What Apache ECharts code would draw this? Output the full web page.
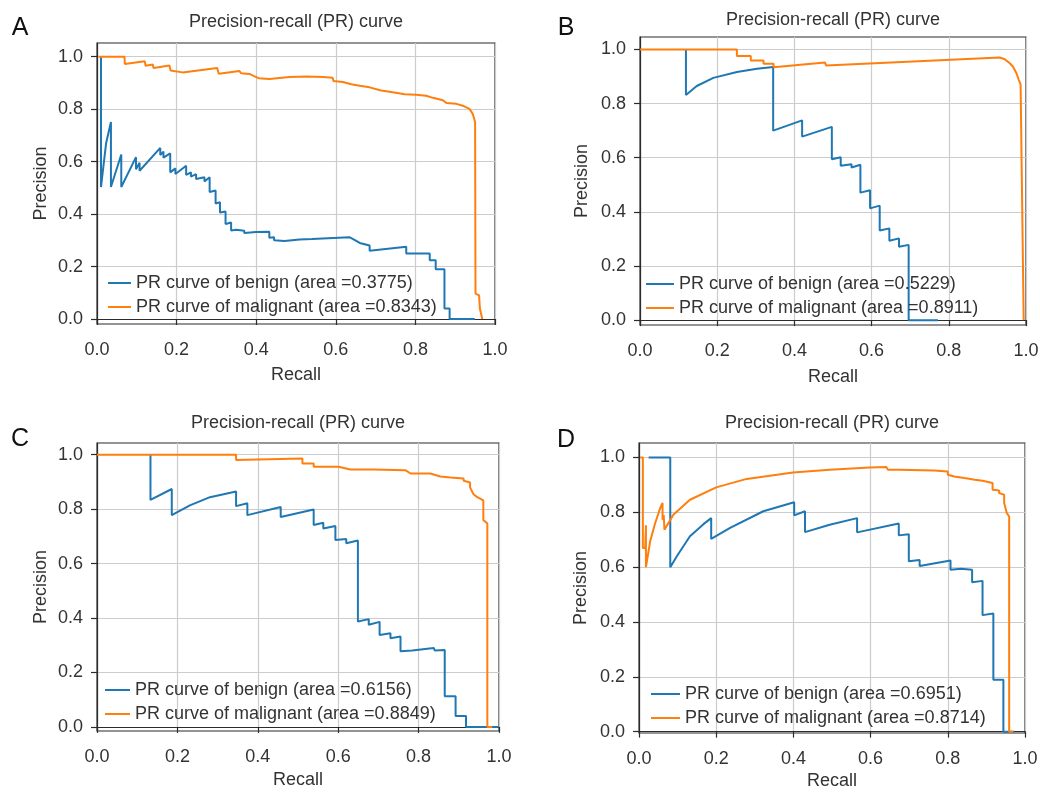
<!DOCTYPE html>
<html>
<head>
<meta charset="utf-8">
<script src="https://cdn.jsdelivr.net/npm/echarts@6/dist/echarts.min.js"></script>
<style>
html,body{margin:0;padding:0;background:#fff;}
#chart{width:1040px;height:792px;}
</style>
</head>
<body>
<div id="chart"></div>
<script>
// ---------- data (recall, precision) ----------
const xTicks = [0, 0.2, 0.4, 0.6, 0.8, 1.0];
const yTicks = [0, 0.2, 0.4, 0.6, 0.8, 1.0];
const panelLetters = ['A', 'B', 'C', 'D'];
const chartTitle = 'Precision-recall (PR) curve';
const benignNames = ['PR curve of benign (area =0.3775)', 'PR curve of benign (area =0.5229)', 'PR curve of benign (area =0.6156)', 'PR curve of benign (area =0.6951)'];
const malignantNames = ['PR curve of malignant (area =0.8343)', 'PR curve of malignant (area =0.8911)', 'PR curve of malignant (area =0.8849)', 'PR curve of malignant (area =0.8714)'];

const benignA = [[0.010,1.0],[0.010,0.503],[0.023,0.671],[0.035,0.751],[0.035,0.503],[0.061,0.627],[0.061,0.503],[0.098,0.617],[0.098,0.571],[0.107,0.596],[0.107,0.565],[0.159,0.652],[0.159,0.625],[0.167,0.638],[0.167,0.615],[0.184,0.631],[0.184,0.559],[0.197,0.574],[0.197,0.553],[0.224,0.584],[0.224,0.549],[0.236,0.559],[0.236,0.543],[0.249,0.552],[0.249,0.534],[0.270,0.540],[0.270,0.524],[0.283,0.540],[0.283,0.484],[0.298,0.490],[0.298,0.440],[0.309,0.445],[0.309,0.406],[0.323,0.410],[0.323,0.362],[0.337,0.368],[0.337,0.337],[0.350,0.340],[0.350,0.333],[0.370,0.336],[0.370,0.328],[0.400,0.332],[0.400,0.326],[0.433,0.333],[0.433,0.310],[0.445,0.312],[0.445,0.300],[0.471,0.297],[0.509,0.303],[0.540,0.305],[0.540,0.300],[0.634,0.312],[0.647,0.302],[0.660,0.290],[0.685,0.280],[0.685,0.260],[0.777,0.275],[0.777,0.250],[0.836,0.250],[0.836,0.224],[0.851,0.224],[0.851,0.190],[0.873,0.190],[0.873,0.040],[0.886,0.040],[0.886,0.0],[0.949,0.0]];
const malignantA = [[0.004,1.0],[0.069,1.0],[0.070,0.972],[0.120,0.982],[0.122,0.965],[0.140,0.970],[0.142,0.957],[0.182,0.966],[0.185,0.947],[0.215,0.940],[0.216,0.935],[0.302,0.957],[0.306,0.935],[0.358,0.945],[0.362,0.937],[0.383,0.934],[0.386,0.927],[0.396,0.925],[0.406,0.918],[0.433,0.915],[0.484,0.922],[0.526,0.924],[0.567,0.922],[0.592,0.920],[0.594,0.907],[0.618,0.903],[0.639,0.895],[0.660,0.889],[0.685,0.883],[0.714,0.871],[0.743,0.864],[0.773,0.857],[0.802,0.855],[0.827,0.851],[0.844,0.843],[0.869,0.834],[0.878,0.823],[0.903,0.820],[0.919,0.813],[0.936,0.801],[0.944,0.782],[0.950,0.751],[0.951,0.097],[0.960,0.090],[0.962,0.040],[0.968,0.0]];

const benignB = [[0.119,1.0],[0.119,0.832],[0.147,0.865],[0.190,0.895],[0.251,0.917],[0.303,0.929],[0.345,0.935],[0.345,0.700],[0.420,0.738],[0.420,0.678],[0.497,0.714],[0.497,0.594],[0.520,0.602],[0.520,0.570],[0.548,0.576],[0.548,0.564],[0.571,0.574],[0.571,0.471],[0.596,0.480],[0.596,0.413],[0.621,0.423],[0.621,0.331],[0.646,0.339],[0.646,0.293],[0.671,0.302],[0.671,0.271],[0.696,0.278],[0.696,0.0],[0.772,0.0]];
const malignantB = [[0.0,1.0],[0.251,1.0],[0.251,0.976],[0.287,0.976],[0.287,0.959],[0.320,0.959],[0.320,0.947],[0.346,0.947],[0.346,0.934],[0.479,0.952],[0.482,0.941],[0.932,0.970],[0.945,0.964],[0.958,0.949],[0.966,0.937],[0.975,0.913],[0.981,0.889],[0.986,0.871],[0.991,0.865],[0.994,0.0]];

const benignC = [[0.133,1.0],[0.133,0.834],[0.186,0.874],[0.186,0.778],[0.231,0.814],[0.281,0.844],[0.346,0.865],[0.346,0.811],[0.374,0.822],[0.374,0.778],[0.457,0.808],[0.457,0.771],[0.539,0.799],[0.539,0.742],[0.563,0.750],[0.563,0.729],[0.593,0.738],[0.593,0.687],[0.620,0.690],[0.620,0.675],[0.649,0.685],[0.649,0.387],[0.676,0.396],[0.676,0.375],[0.703,0.386],[0.703,0.338],[0.730,0.344],[0.730,0.326],[0.755,0.332],[0.755,0.278],[0.784,0.281],[0.838,0.290],[0.840,0.281],[0.865,0.283],[0.865,0.113],[0.892,0.113],[0.892,0.040],[0.918,0.040],[0.918,0.0],[0.999,0.0]];
const malignantC = [[0.0,1.0],[0.346,1.0],[0.346,0.981],[0.511,0.986],[0.511,0.968],[0.539,0.968],[0.539,0.956],[0.601,0.956],[0.601,0.949],[0.630,0.946],[0.688,0.946],[0.688,0.940],[0.767,0.943],[0.767,0.937],[0.780,0.931],[0.829,0.931],[0.829,0.926],[0.854,0.920],[0.879,0.916],[0.912,0.913],[0.912,0.904],[0.928,0.898],[0.928,0.880],[0.936,0.856],[0.946,0.844],[0.946,0.838],[0.961,0.832],[0.961,0.760],[0.971,0.747],[0.971,0.0],[0.983,0.0]];

const benignD = [[0.025,1.0],[0.081,1.0],[0.081,0.600],[0.098,0.640],[0.132,0.713],[0.167,0.757],[0.187,0.779],[0.187,0.703],[0.236,0.743],[0.322,0.804],[0.402,0.837],[0.402,0.789],[0.430,0.804],[0.430,0.728],[0.494,0.755],[0.565,0.779],[0.565,0.727],[0.673,0.759],[0.673,0.716],[0.699,0.720],[0.699,0.622],[0.727,0.626],[0.727,0.604],[0.807,0.624],[0.807,0.591],[0.834,0.594],[0.834,0.588],[0.863,0.591],[0.863,0.545],[0.890,0.550],[0.890,0.425],[0.918,0.431],[0.918,0.189],[0.944,0.189],[0.944,0.0],[0.972,0.0]];
const malignantD = [[0.003,1.0],[0.010,1.0],[0.010,0.670],[0.016,0.670],[0.018,0.753],[0.018,0.600],[0.029,0.695],[0.042,0.761],[0.055,0.816],[0.061,0.834],[0.061,0.773],[0.064,0.790],[0.066,0.737],[0.089,0.791],[0.132,0.846],[0.200,0.891],[0.279,0.922],[0.399,0.945],[0.494,0.955],[0.597,0.964],[0.641,0.965],[0.645,0.955],[0.675,0.955],[0.675,0.949],[0.765,0.953],[0.765,0.947],[0.800,0.949],[0.800,0.937],[0.817,0.931],[0.843,0.925],[0.870,0.919],[0.890,0.915],[0.916,0.907],[0.916,0.882],[0.933,0.880],[0.933,0.870],[0.946,0.864],[0.946,0.834],[0.953,0.797],[0.959,0.785],[0.959,0.0],[0.970,0.0]];

const benignData = [benignA, benignB, benignC, benignD];
const malignantData = [malignantA, malignantB, malignantC, malignantD];

// ---------- layout ----------
const FONT = "'Liberation Sans', Arial, Helvetica, sans-serif";
const TXT = '#333';
const BLUE = '#1f77b4', ORANGE = '#ff7f0e';
const layout = [
  {grid:{left:97, top:43, width:398, height:281}, ymin:-0.019, ymax:1.052, leg:{left:108, top:274, w:23}, title:[296,22], letter:[20,28], xGap:42, yGap:47},
  {grid:{left:640, top:37, width:386, height:288}, ymin:-0.018, ymax:1.046, leg:{left:646, top:275, w:28}, title:[833,20], letter:[566,28], xGap:43, yGap:49},
  {grid:{left:97, top:443, width:402, height:288}, ymin:-0.015, ymax:1.043, leg:{left:105, top:681, w:25}, title:[298,423], letter:[20,439], xGap:40, yGap:47},
  {grid:{left:639, top:443, width:386, height:290}, ymin:-0.005, ymax:1.053, leg:{left:651, top:685, w:29}, title:[832,423], letter:[566,440], xGap:39, yGap:49}
];

const grids = [], xAxes = [], yAxes = [], series = [], legends = [], titles = [];
layout.forEach((L, i) => {
  grids.push(Object.assign({show:true, borderColor:'#2b2b2b', borderWidth:1.2, backgroundColor:'transparent', outerBoundsMode:'none', containLabel:false}, L.grid));
  xAxes.push({
    type:'value', gridIndex:i, min:xTicks[0], max:xTicks[xTicks.length-1], interval:0.2,
    name:'Recall', nameLocation:'middle', nameGap:L.xGap,
    nameTextStyle:{fontFamily:FONT, fontSize:18, color:TXT},
    axisLine:{show:true, lineStyle:{color:'#2b2b2b', width:1.2}},
    axisTick:{show:true, inside:false, length:6, lineStyle:{color:'#2b2b2b', width:1.2}},
    axisLabel:{fontFamily:FONT, fontSize:18, color:TXT, margin:17, formatter:v => v.toFixed(1)},
    splitLine:{show:true, lineStyle:{color:'#cccccc', width:1.2}}
  });
  yAxes.push({
    type:'value', gridIndex:i, min:L.ymin, max:L.ymax, splitNumber:5,
    name:'Precision', nameLocation:'middle', nameGap:L.yGap,
    nameTextStyle:{fontFamily:FONT, fontSize:18, color:TXT},
    axisLine:{show:true, lineStyle:{color:'#2b2b2b', width:1.2}},
    axisTick:{show:true, inside:false, length:6, customValues:yTicks, lineStyle:{color:'#2b2b2b', width:1.2}},
    axisLabel:{fontFamily:FONT, fontSize:18, color:TXT, margin:14, customValues:yTicks, formatter:v => v.toFixed(1)},
    splitLine:{show:true, lineStyle:{color:'#cccccc', width:1.2}}
  });
  series.push({
    name:benignNames[i], type:'line', xAxisIndex:i, yAxisIndex:i, data:benignData[i],
    symbol:'none', showSymbol:false, color:BLUE, lineStyle:{color:BLUE, width:2}, z:2
  });
  series.push({
    name:malignantNames[i], type:'line', xAxisIndex:i, yAxisIndex:i, data:malignantData[i],
    symbol:'none', showSymbol:false, color:ORANGE, lineStyle:{color:ORANGE, width:2}, z:3
  });
  legends.push({
    data:[benignNames[i], malignantNames[i]], orient:'vertical', left:L.leg.left, top:L.leg.top,
    padding:0, itemGap:6, itemWidth:L.leg.w, itemHeight:2, icon:'rect',
    selectedMode:false, textStyle:{fontFamily:FONT, fontSize:18, color:TXT, lineHeight:18}
  });
  titles.push({text:chartTitle, left:L.title[0], top:L.title[1], textAlign:'center', textVerticalAlign:'middle', padding:0,
    textStyle:{fontFamily:FONT, fontSize:18, fontWeight:'normal', color:TXT}});
  titles.push({text:panelLetters[i], left:L.letter[0], top:L.letter[1], textAlign:'center', textVerticalAlign:'middle', padding:0,
    textStyle:{fontFamily:FONT, fontSize:25, fontWeight:'normal', color:'#111'}});
});

const chart = echarts.init(document.getElementById('chart'), null, {renderer:'canvas'});
chart.setOption({
  animation:false,
  backgroundColor:'#ffffff',
  title:titles,
  grid:grids,
  xAxis:xAxes,
  yAxis:yAxes,
  legend:legends,
  series:series
});
</script>
</body>
</html>
